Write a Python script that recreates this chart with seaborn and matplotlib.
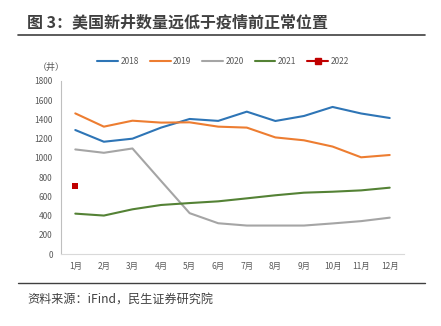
import matplotlib
matplotlib.use("Agg")
import matplotlib.pyplot as plt
import seaborn as sns
import pandas as pd
import numpy as np
from matplotlib.lines import Line2D

sns.set_theme(style="white")
plt.rcParams['font.family'] = ['Noto Sans CJK SC', 'DejaVu Sans']

months = ["1月", "2月", "3月", "4月", "5月", "6月", "7月", "8月", "9月", "10月", "11月", "12月"]
y2018 = [1290, 1168, 1200, 1315, 1405, 1385, 1481, 1384, 1436, 1530, 1462, 1415]
y2019 = [1463, 1325, 1387, 1367, 1370, 1325, 1315, 1213, 1183, 1118, 1006, 1030]
y2020 = [1088, 1053, 1098, 760, 425, 320, 296, 296, 296, 318, 342, 378]
y2021 = [420, 400, 465, 510, 530, 548, 579, 611, 638, 648, 662, 690]
y2022 = [711]
years = ["2018", "2019", "2020", "2021", "2022"]
colors = ["#2E75B6", "#ED7D31", "#A5A5A5", "#548235", "#C00000"]
yticks = [0, 200, 400, 600, 800, 1000, 1200, 1400, 1600, 1800]

title = "图 3：美国新井数量远低于疫情前正常位置"
source = "资料来源：iFind，民生证券研究院"
unit = "（井）"

rows = []
for yr, vals in zip(years[:4], [y2018, y2019, y2020, y2021]):
    for i, v in enumerate(vals):
        rows.append({"month": i, "year": yr, "value": v})
df = pd.DataFrame(rows)
df22 = pd.DataFrame({"month": list(range(len(y2022))), "year": "2022", "value": y2022})

fig = plt.figure(figsize=(4.41, 3.26), dpi=100)
ax = fig.add_axes([61/441, 1-254/326, 343/441, 173/326])

pal = dict(zip(years, colors))
sns.lineplot(data=df, x="month", y="value", hue="year", palette=pal, ax=ax,
             linewidth=1.5, legend=False)
sns.scatterplot(data=df22, x="month", y="value", color=pal["2022"], marker="s",
                s=24, edgecolor=pal["2022"], linewidth=0, ax=ax, legend=False, zorder=5)

ax.set_xlim(-0.5, 11.5)
ax.set_ylim(0, 1800)
ax.set_yticks(yticks)
ax.set_yticklabels([str(t) for t in yticks], fontsize=6, color="#595959")
ax.set_xticks(range(12))
ax.set_xticklabels(months, fontsize=6, color="#595959")
ax.set_xticks(np.arange(-0.5, 12, 1), minor=True)
ax.tick_params(axis="x", which="major", length=0, pad=6)
ax.tick_params(axis="x", which="minor", length=3, color="#D9D9D9", width=0.8, direction="out")
ax.tick_params(axis="y", length=0, pad=6)
ax.set_xlabel("")
ax.set_ylabel("")
for s in ["top", "right"]:
    ax.spines[s].set_visible(False)
ax.spines["left"].set_color("#BFBFBF")
ax.spines["bottom"].set_color("#D9D9D9")
ax.spines["left"].set_linewidth(0.8)
ax.spines["bottom"].set_linewidth(0.8)

handles = []
for yr, c in zip(years, colors):
    if yr == "2022":
        handles.append(Line2D([0], [0], color=c, lw=1.5, marker="s", markersize=4))
    else:
        handles.append(Line2D([0], [0], color=c, lw=1.5))
fig.legend(handles, years, loc="center", bbox_to_anchor=(223/441, 1-61/326), ncol=5,
           frameon=False, fontsize=6, handlelength=2.5, handletextpad=0.3,
           columnspacing=1.3, labelcolor="#595959")

fig.text(27/441, 1-22/326, title, fontsize=11.5, fontweight="bold", color="#404040",
         va="center", ha="left")
fig.add_artist(Line2D([18/441, 425/441], [1-35/326, 1-35/326], color="#404040", lw=1.2,
                      transform=fig.transFigure))
fig.text(38/441, 1-67/326, unit, fontsize=6.5, color="#595959", va="center", ha="left")
fig.add_artist(Line2D([18/441, 425/441], [1-283/326, 1-283/326], color="#404040", lw=1.0,
                      transform=fig.transFigure))
fig.text(27/441, 1-300/326, source, fontsize=8.7, color="#404040", va="center", ha="left")

fig.savefig("out.png", dpi=100)
